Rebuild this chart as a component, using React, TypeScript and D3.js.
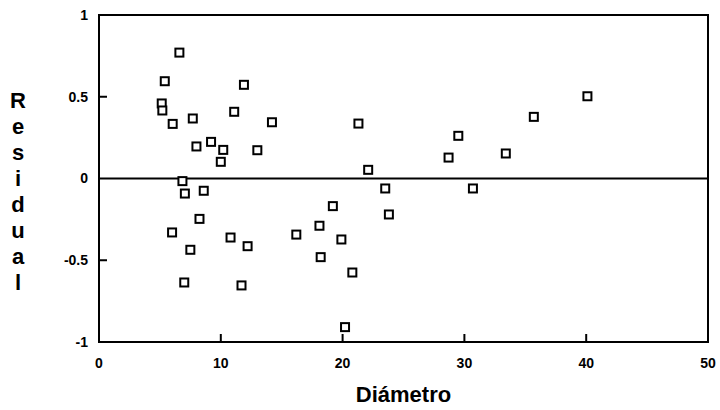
import React from "react";
import * as d3 from "d3";

const diameter = [6.6, 5.4, 11.9, 5.15, 5.2, 7.7, 6.05, 11.1, 14.2, 8.0, 9.2, 10.2, 13.0, 10.0,
  6.85, 7.05, 8.6, 8.25, 6.0, 10.8, 12.2, 16.2, 7.5, 7.0, 11.7,
  21.3, 29.5, 28.7, 33.4, 22.1, 23.5, 30.7,
  19.2, 23.8, 18.1, 19.9, 18.2, 20.8, 20.2,
  40.1, 35.7];
const residual = [0.77, 0.595, 0.573, 0.459, 0.416, 0.367, 0.334, 0.408, 0.344, 0.196, 0.224, 0.175, 0.173, 0.102,
  -0.016, -0.092, -0.075, -0.247, -0.33, -0.361, -0.414, -0.343, -0.436, -0.636, -0.654,
  0.336, 0.261, 0.128, 0.153, 0.053, -0.061, -0.061,
  -0.169, -0.22, -0.289, -0.373, -0.481, -0.575, -0.909,
  0.503, 0.377];

const xTicks = [0, 10, 20, 30, 40, 50];
const yTicks = [1, 0.5, 0, -0.5, -1];
const yTickLabels = ["1", "0.5", "0", "-0.5", "-1"];
const yTitle = ["R", "e", "s", "i", "d", "u", "a", "l"];
const xTitle = "Diámetro";

export default function App() {
  const W = 720, H = 410;
  const left = 99, right = 708, top = 15, bottom = 342;
  const x = d3.scaleLinear().domain([0, 50]).range([left, right]);
  const y = d3.scaleLinear().domain([-1, 1]).range([bottom, top]);
  const font = "'Liberation Sans', Arial, sans-serif";
  const pts = diameter.map((d, i) => ({ d, r: residual[i] }));
  const s = 8;
  return (
    <svg width={W} height={H} style={{ position: "absolute", left: 0, top: 0, background: "#fff" }}>
      <rect x={left} y={top} width={right - left} height={bottom - top} fill="none" stroke="#000" strokeWidth={2} />
      <line x1={left} x2={right} y1={y(0)} y2={y(0)} stroke="#000" strokeWidth={2} />
      {xTicks.slice(1, -1).map((t) => (
        <line key={"xt" + t} x1={x(t)} x2={x(t)} y1={bottom} y2={bottom - 8} stroke="#000" strokeWidth={2} />
      ))}
      {[0.5, -0.5].map((t) => (
        <line key={"yt" + t} x1={left} x2={left + 8} y1={y(t)} y2={y(t)} stroke="#000" strokeWidth={2} />
      ))}
      {xTicks.map((t) => (
        <text key={"xl" + t} x={x(t)} y={bottom + 26} textAnchor="middle" fontFamily={font} fontWeight={900} fontSize={14}>
          {t}
        </text>
      ))}
      {yTicks.map((t, i) => (
        <text key={"yl" + t} x={88} y={y(t)} dy="0.35em" textAnchor="end" fontFamily={font} fontWeight={900} fontSize={14}>
          {yTickLabels[i]}
        </text>
      ))}
      {yTitle.map((c, i) => (
        <text key={"yc" + i} x={18} y={100 + i * 26} dy="0.35em" textAnchor="middle" fontFamily={font} fontWeight={900} fontSize={22}>
          {c}
        </text>
      ))}
      <text x={(left + right) / 2} y={402} textAnchor="middle" fontFamily={font} fontWeight={900} fontSize={22}>
        {xTitle}
      </text>
      {pts.map((p, i) => (
        <rect key={i} x={x(p.d) - s / 2} y={y(p.r) - s / 2} width={s} height={s} fill="#fff" stroke="#000" strokeWidth={2} />
      ))}
    </svg>
  );
}
